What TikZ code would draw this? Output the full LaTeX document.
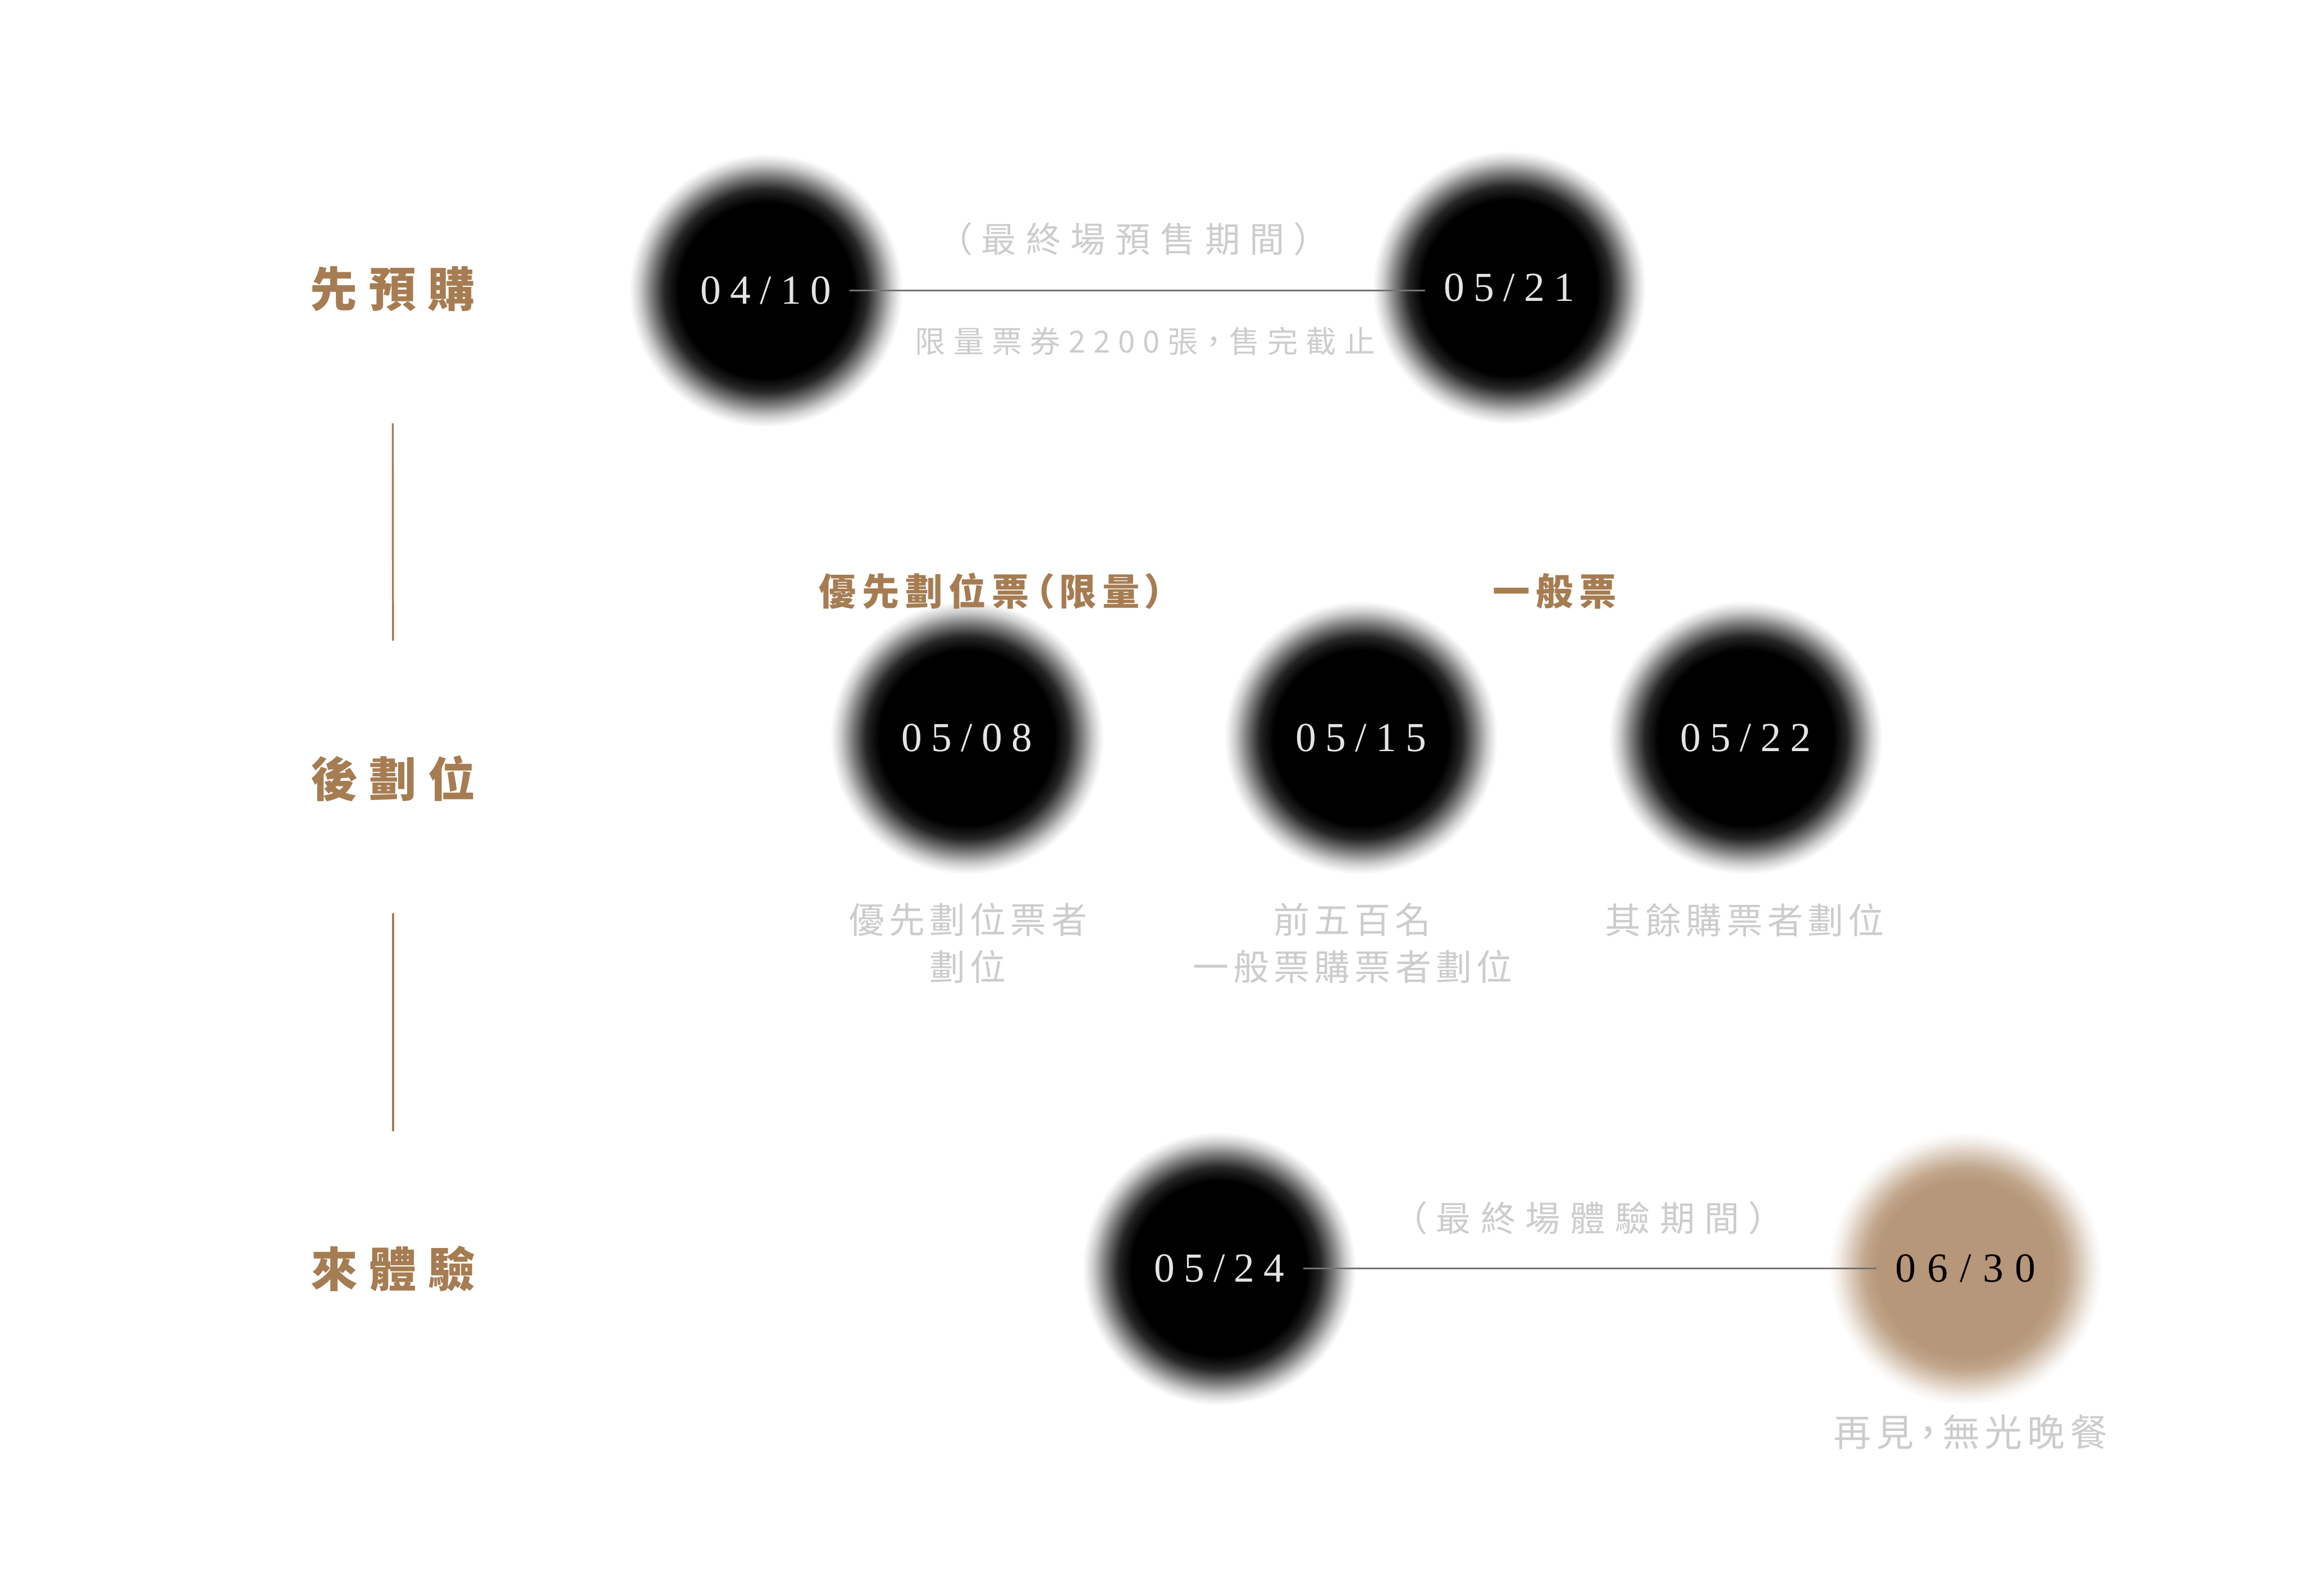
\documentclass[tikz,border=0pt]{standalone}
\usepackage{fontspec}
\usetikzlibrary{positioning}
\newfontfamily\stagefont[LetterSpace=24,RawFeature=+palt]{Noto Sans CJK TC}
\newfontfamily\tagfont[LetterSpace=16,RawFeature=+palt]{Noto Sans CJK TC}
\newfontfamily\notefont[LetterSpace=28,RawFeature=+palt]{Noto Sans CJK TC}
\newfontfamily\finefont[LetterSpace=26,RawFeature=+palt]{Noto Sans CJK TC}
\newfontfamily\descfont[LetterSpace=13,RawFeature=+palt]{Noto Sans CJK TC}
\newfontfamily\datefont[LetterSpace=22]{Liberation Serif}
\definecolor{bronze}{RGB}{166,124,82}
\definecolor{ashgray}{RGB}{204,204,204}
\definecolor{latte}{RGB}{182,151,121}
\definecolor{datewhite}{RGB}{228,228,228}
\pgfdeclareradialshading{inkdot}{\pgfpoint{0bp}{0bp}}{color(0bp)=(black); color(16bp)=(black);
  color(18.5bp)=(black!85); color(21bp)=(black!50); color(23bp)=(black!20);
  color(24.3bp)=(black!6); color(25bp)=(white); color(50bp)=(white)}
\pgfdeclareradialshading{lattedot}{\pgfpoint{0bp}{0bp}}{color(0bp)=(latte); color(16bp)=(latte);
  color(18.5bp)=(latte!85!white); color(21bp)=(latte!50!white); color(23bp)=(latte!20!white);
  color(24.3bp)=(latte!6!white); color(25bp)=(white); color(50bp)=(white)}

\begin{document}
\begin{tikzpicture}
  \tikzstyle{disc}=[circle,minimum size=5.5cm,inner sep=0pt,shade]
  \tikzstyle{ink}=[disc,shading=inkdot]
  \tikzstyle{tan}=[disc,shading=lattedot]
  \tikzstyle{date}=[inner sep=2pt,text=datewhite,font=\datefont\fontsize{23.6pt}{28pt}\selectfont]
  \tikzstyle{stage}=[inner sep=0pt,text=bronze,font=\stagefont\bfseries\fontsize{27pt}{32pt}\selectfont]
  \tikzstyle{tag}=[inner sep=0pt,text=bronze,font=\tagfont\bfseries\fontsize{21.3pt}{26pt}\selectfont]
  \tikzstyle{note}=[inner sep=0pt,text=ashgray,font=\notefont\fontsize{20pt}{24pt}\selectfont]
  \tikzstyle{fine}=[inner sep=0pt,text=ashgray,font=\finefont\fontsize{17.4pt}{21pt}\selectfont]
  \tikzstyle{desc}=[inner sep=0pt,text=ashgray,align=center,font=\descfont\fontsize{20.5pt}{27pt}\selectfont]
  \tikzstyle{stem}=[bronze,line width=1.1pt,shorten <=2.24cm,shorten >=2.3cm]
  \tikzstyle{period}=[black!55,line width=0.9pt,shorten <=0.3cm,shorten >=0.3cm]

  \fill[white] (0,0) rectangle (46.22,-32.07);

  % -- Stage titles on the left --
  \node[stage] (tpre) at (7.89,-5.81) {先預購};
  \node[stage] (tseat) at (7.90,-15.65) {後劃位};
  \node[stage] (tdine) at (7.90,-25.50) {來體驗};
  \draw[stem] (tpre) -- (tseat);
  \draw[stem] (tseat) -- (tdine);

  % -- Row 1: presale --
  \node[ink] (c0410) at (15.39,-5.84) {};
  \node[ink] (c0521) at (30.33,-5.78) {};
  \node[date] (d0410) at (c0410) {04/10};
  \node[date] (d0521) at (c0521) {05/21};
  \draw[period] (d0410) -- (d0410 -| d0521.west);
  \node[note] (p1) at (22.77,-4.81) {（最終場預售期間）};
  \node[fine] (q1) at (23.01,-6.86) {限量票券2200張，售完截止};

  % -- Row 2: seat selection --
  \node[ink] (c0508) at (19.43,-14.83) {};
  \node[ink] (c0515) at (27.35,-14.83) {};
  \node[ink] (c0522) at (35.08,-14.83) {};
  \node[date] (d0508) at (c0508) {05/08};
  \node[date] (d0515) at (c0515) {05/15};
  \node[date] (d0522) at (c0522) {05/22};
  \node[tag] (g1) at (19.93,-11.88) {優先劃位票（限量）};
  \node[tag] (g2) at (31.24,-11.88) {一般票};
  \node[desc] (e1) at (19.45,-18.96) {優先劃位票者\\劃位};
  \node[desc] (e2) at (27.18,-18.96) {前五百名\\一般票購票者劃位};
  \node[desc] (e3) at (35.06,-18.49) {其餘購票者劃位};

  % -- Row 3: the dinner --
  \node[ink] (c0524) at (24.50,-25.50) {};
  \node[tan] (c0630) at (39.50,-25.50) {};
  \node[date] (d0524) at (c0524) {05/24};
  \node[date,text=black,font=\datefont\addfontfeatures{LetterSpace=28}\fontsize{23.6pt}{28pt}\selectfont] (d0630) at (c0630) {06/30};
  \draw[period] (d0524) -- (d0630);
  \node[note] (p2) at (31.91,-24.49) {（最終場體驗期間）};
  \node[desc,font=\descfont\fontsize{21.5pt}{27pt}\selectfont] (e4) at (39.60,-28.78) {再見，無光晚餐};
\end{tikzpicture}
\end{document}
